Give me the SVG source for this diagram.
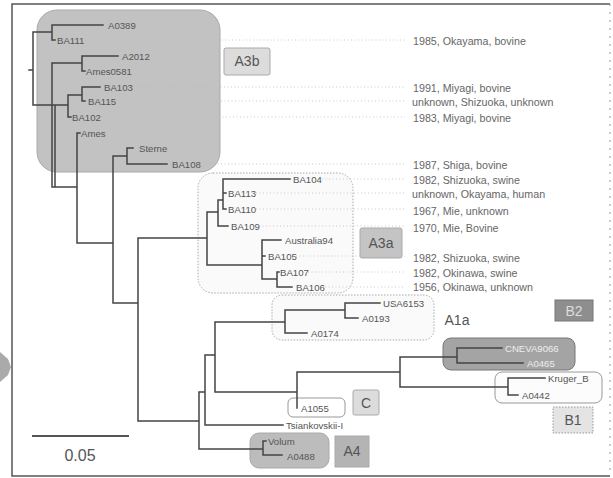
<svg xmlns="http://www.w3.org/2000/svg" width="613" height="478" viewBox="0 0 613 478">
<style>
.br{fill:none;stroke:#444;stroke-width:1.5;stroke-linecap:square}
.ld{fill:none;stroke:#bbb;stroke-width:0.8;stroke-dasharray:1 2.5}
.lf{font-family:"Liberation Sans",Arial,sans-serif;font-size:9.6px;fill:#555}
.an{font-family:"Liberation Sans",Arial,sans-serif;font-size:10.7px;fill:#666}
.cl{font-family:"Liberation Sans",Arial,sans-serif;font-size:14px;fill:#555;text-anchor:middle}
</style>
<rect x="0" y="0" width="613" height="478" fill="#fff"/>
<path d="M0,352 L8,359 L11,367 L8,375 L0,382 Z" fill="#aaa"/>
<g id="frame">
<path d="M610,4 H12 V476 H610" fill="none" stroke="#555" stroke-width="1.5"/>
<path d="M610,4 V476" fill="none" stroke="#999" stroke-width="1" stroke-dasharray="2 6"/>
</g>
<g id="clade-boxes">
<rect id="A3b-box" x="37" y="10" width="183" height="162" rx="20" fill="#c2c2c2" stroke="#aaa"/>
<rect id="A3a-box" x="198" y="173" width="155" height="120" rx="15" fill="#fafafa" stroke="#aaa" stroke-dasharray="1.5 1.5"/>
<rect id="A1a-box" x="272" y="295" width="162" height="45" rx="10" fill="#fafafa" stroke="#aaa" stroke-dasharray="1.5 1.5"/>
<rect id="B2-box" x="443" y="338" width="132" height="32" rx="8" fill="#a4a4a4" stroke="#777"/>
<rect id="B1-box" x="495" y="372" width="107" height="31" rx="7" fill="#fcfcfc" stroke="#999"/>
<rect id="C-box" x="288" y="398" width="57" height="19" rx="5" fill="#fff" stroke="#999"/>
<rect id="A4-box" x="250" y="433" width="79" height="35" rx="9" fill="#bcbcbc" stroke="#aaa"/>
</g>
<g id="clade-labels">
<g id="A3b"><rect x="224" y="48" width="46" height="27" rx="2" fill="#dcdcdc" stroke="#aaa"/><text class="cl" x="247" y="66">A3b</text></g>
<g id="A3a"><rect x="360" y="228" width="42" height="30" rx="2" fill="#c4c4c4" stroke="#aaa"/><text class="cl" x="381" y="248">A3a</text></g>
<g id="A1a"><text class="cl" x="457" y="325">A1a</text></g>
<g id="B2"><rect x="555" y="300" width="38" height="21" fill="#8e8e8e" stroke="#777"/><text class="cl" x="574" y="316" style="fill:#ddd">B2</text></g>
<g id="B1"><rect x="553" y="407" width="40" height="26" fill="#e4e4e4" stroke="#999" stroke-dasharray="1.5 1.5"/><text class="cl" x="573" y="425">B1</text></g>
<g id="C"><rect x="353" y="390" width="26" height="25" rx="2" fill="#dcdcdc" stroke="#aaa"/><text class="cl" x="366" y="408">C</text></g>
<g id="A4"><rect x="335" y="436" width="34" height="31" fill="#b4b4b4" stroke="#aaa"/><text class="cl" x="352" y="456">A4</text></g>
</g>
<g id="leaders">
<path class="ld" d="M85,40 H405 M133,87 H405 M116,101 H405 M100,117 H405 M200,164 H405 M322,179 H405 M256,193 H405 M256,209 H405 M259,226 H405 M296,256 H405 M308,272 H405 M325,287 H405"/>
</g>
<g id="connectors">
<path class="br" d="M29,70 H33 M33,32 V105 M33,32 H52 M52,25 V40 M52,25 H103 M52,40 H55 M33,105 H68
M52,63 V187 M55,105 V187 M52,63 H82 M82,56 V71 M82,56 H118 M82,71 H85
M68,95 V117 M68,117 H71 M68,95 H82 M82,87 V101 M82,87 H100 M82,101 H85
M52,187 H77 M77,133 V243 M77,133 H80
M77,243 H113 M113,156 V303 M113,156 H127 M127,148 V164 M127,148 H133 M127,164 H167
M113,303 H138 M138,238 V421
M138,238 H207 M207,212 V265 M207,212 H218 M218,200 V226 M218,226 H228 M218,200 H223 M223,179 V209 M223,179 H290 M223,193 H226 M223,209 H226
M207,265 H262 M262,240 V279 M262,240 H281 M262,256 H265 M262,279 H277 M277,272 V287 M277,272 H279 M277,287 H292
M138,421 H199 M199,392 V449 M199,392 H205 M205,355 V425 M205,425 H283 M205,355 H215 M215,322 V392
M215,322 H285 M285,310 V333 M285,333 H307 M285,310 H345 M345,303 V318 M345,303 H380 M345,318 H358
M215,392 H297 M297,372 V408 M297,372 H400 M400,357 V387 M400,357 H457 M457,348 V363 M457,348 H502 M457,363 H523 M400,387 H508 M508,378 V395 M508,378 H545 M508,395 H518
M199,449 H263 M263,441 V455 M263,455 H282 M263,441 H266"/>
</g>
<g id="leaves">
<text class="lf" x="108" y="28.5">A0389</text>
<text class="lf" x="57" y="43.5">BA111</text>
<text class="lf" x="122" y="59.5">A2012</text>
<text class="lf" x="86" y="74.5">Ames0581</text>
<text class="lf" x="104" y="90.5">BA103</text>
<text class="lf" x="88" y="104.5">BA115</text>
<text class="lf" x="72" y="120.5">BA102</text>
<text class="lf" x="81" y="136.5">Ames</text>
<text class="lf" x="139" y="151.5">Sterne</text>
<text class="lf" x="172" y="167.5">BA108</text>
<text class="lf" x="293" y="182.5">BA104</text>
<text class="lf" x="228" y="196.5">BA113</text>
<text class="lf" x="228" y="212.5">BA110</text>
<text class="lf" x="231" y="229.5">BA109</text>
<text class="lf" x="285" y="243.5">Australia94</text>
<text class="lf" x="268" y="259.5">BA105</text>
<text class="lf" x="280" y="275.5">BA107</text>
<text class="lf" x="296" y="290.5">BA106</text>
<text class="lf" x="383" y="306.5">USA6153</text>
<text class="lf" x="362" y="321.5">A0193</text>
<text class="lf" x="311" y="336.5">A0174</text>
<text class="lf" x="505" y="351.5" style="fill:#eee">CNEVA9066</text>
<text class="lf" x="527" y="366.5" style="fill:#eee">A0465</text>
<text class="lf" x="548" y="381.5">Kruger_B</text>
<text class="lf" x="522" y="398.5">A0442</text>
<text class="lf" x="301" y="411.5">A1055</text>
<text class="lf" x="286" y="428.5">Tsiankovskii-I</text>
<text class="lf" x="268" y="444.5">Volum</text>
<text class="lf" x="287" y="459.5">A0488</text>
</g>
<g id="annotations">
<text class="an" x="413" y="44.5">1985, Okayama, bovine</text>
<text class="an" x="413" y="91.5">1991, Miyagi, bovine</text>
<text class="an" x="412" y="106">unknown, Shizuoka, unknown</text>
<text class="an" x="413" y="121.5">1983, Miyagi, bovine</text>
<text class="an" x="413" y="168.5">1987, Shiga, bovine</text>
<text class="an" x="413" y="184">1982, Shizuoka, swine</text>
<text class="an" x="412" y="197.5">unknown, Okayama, human</text>
<text class="an" x="413" y="214.5">1967, Mie, unknown</text>
<text class="an" x="413" y="231.5">1970, Mie, Bovine</text>
<text class="an" x="413" y="261.5">1982, Shizuoka, swine</text>
<text class="an" x="413" y="276.5">1982, Okinawa, swine</text>
<text class="an" x="413" y="290.5">1956, Okinawa, unknown</text>
</g>
<g id="scale">
<path d="M32,436 H129" stroke="#555" stroke-width="2"/>
<text x="80" y="461" font-family="'Liberation Sans',Arial,sans-serif" font-size="16" fill="#555" text-anchor="middle">0.05</text>
</g>
</svg>
